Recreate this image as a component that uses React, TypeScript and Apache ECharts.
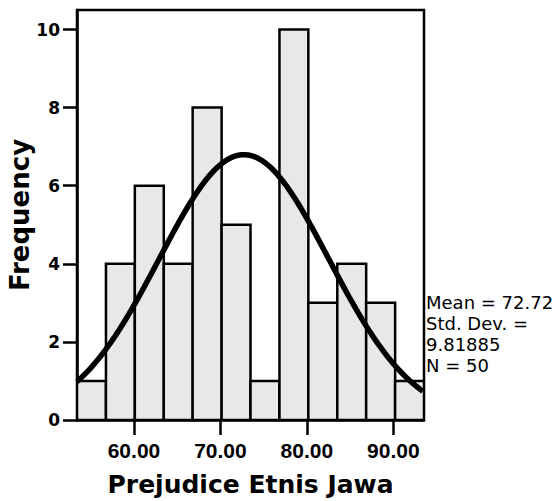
import React, { useEffect, useRef } from "react";
import * as echarts from "echarts";

// Histogram bins (lower bounds + final upper bound) and frequencies
const binEdges = [53.41, 56.76, 60.1, 63.45, 66.79, 70.14, 73.48, 76.83, 80.17, 83.52, 86.86, 90.21, 93.55];
const frequencies = [1, 4, 6, 4, 8, 5, 1, 10, 3, 4, 3, 1];
const xTickValues = [60, 70, 80, 90];
const yTickValues = [0, 2, 4, 6, 8, 10];
const statsLines = ["Mean = 72.72", "Std. Dev. =", "9.81885", "N = 50"];
const mean = 72.72;
const stdDev = 9.81885;
const nObs = 50;
const xTitle = "Prejudice Etnis Jawa";
const yTitle = "Frequency";

export default function App() {
  const ref = useRef<HTMLDivElement>(null);
  useEffect(() => {
    document.body.style.margin = "0";
    const chart = echarts.init(ref.current!, null, { renderer: "svg" });
    const xMin = binEdges[0];
    const xMax = binEdges[binEdges.length - 1];
    const binWidth = (xMax - xMin) / frequencies.length;
    const barData = frequencies.map((f, i) => [binEdges[i], binEdges[i + 1], f]);
    // fitted normal curve scaled to counts (N * bin width * pdf)
    const curve: number[][] = [];
    for (let x = xMin; x <= xMax + 1e-9; x += 0.25) {
      const z = (x - mean) / stdDev;
      curve.push([x, (nObs * binWidth) / (stdDev * Math.sqrt(2 * Math.PI)) * Math.exp(-0.5 * z * z)]);
    }
    chart.setOption({
      animation: false,
      backgroundColor: "#ffffff",
      grid: {
        left: 77,
        top: 10,
        right: 133,
        bottom: 81,
        outerBoundsMode: "none",
        containLabel: false,
        show: true,
        borderColor: "#000",
        borderWidth: 2.5,
        backgroundColor: "transparent",
      },
      xAxis: {
        type: "value",
        min: xMin,
        max: xMax,
        name: xTitle,
        nameLocation: "middle",
        nameGap: 52,
        nameTextStyle: { fontFamily: "DejaVu Sans", fontWeight: "bold", fontSize: 25, color: "#000" },
        axisLine: { show: true, onZero: false, lineStyle: { color: "#000", width: 2.5 } },
        axisTick: { show: true, customValues: xTickValues, length: 15, lineStyle: { color: "#000", width: 2.5 } },
        axisLabel: {
          customValues: xTickValues,
          margin: 20,
          fontFamily: "Liberation Sans",
          fontWeight: "bold",
          fontSize: 21,
          color: "#000",
          formatter: (v: number) => v.toFixed(2),
        },
        splitLine: { show: false },
      },
      yAxis: {
        type: "value",
        min: 0,
        max: 10.5,
        name: yTitle,
        nameLocation: "middle",
        nameGap: 44,
        nameMoveOverlap: false,
        nameRotate: 90,
        nameTextStyle: { fontFamily: "DejaVu Sans", fontWeight: "bold", fontSize: 26, color: "#000" },
        axisLine: { show: true, lineStyle: { color: "#000", width: 2.5 } },
        axisTick: { show: true, customValues: yTickValues, length: 14, lineStyle: { color: "#000", width: 2.5 } },
        axisLabel: {
          customValues: yTickValues,
          margin: 17,
          fontFamily: "DejaVu Sans",
          fontWeight: "bold",
          fontSize: 17,
          color: "#000",
        },
        splitLine: { show: false },
      },
      series: [
        {
          type: "custom",
          data: barData,
          encode: { x: [0, 1], y: 2 },
          clip: true,
          renderItem: (params: any, api: any) => {
            const lo = api.value(0);
            const hi = api.value(1);
            const f = api.value(2);
            const p1 = api.coord([lo, f]);
            const p2 = api.coord([hi, 0]);
            return {
              type: "rect",
              shape: { x: p1[0], y: p1[1], width: p2[0] - p1[0], height: p2[1] - p1[1] },
              style: { fill: "#e8e8e8", stroke: "#000", lineWidth: 2.5 },
            };
          },
          z: 2,
        },
        {
          type: "line",
          data: curve,
          showSymbol: false,
          smooth: false,
          clip: true,
          lineStyle: { color: "#000", width: 5.5 },
          z: 3,
        },
      ],
      graphic: [
        {
          type: "text",
          left: 426,
          top: 292,
          style: {
            text: statsLines.join("\n"),
            fontFamily: "DejaVu Sans",
            fontSize: 18,
            lineHeight: 21,
            fill: "#000",
          },
        },
      ],
    });
    return () => chart.dispose();
  }, []);
  return <div ref={ref} style={{ width: 557, height: 501 }} />;
}
